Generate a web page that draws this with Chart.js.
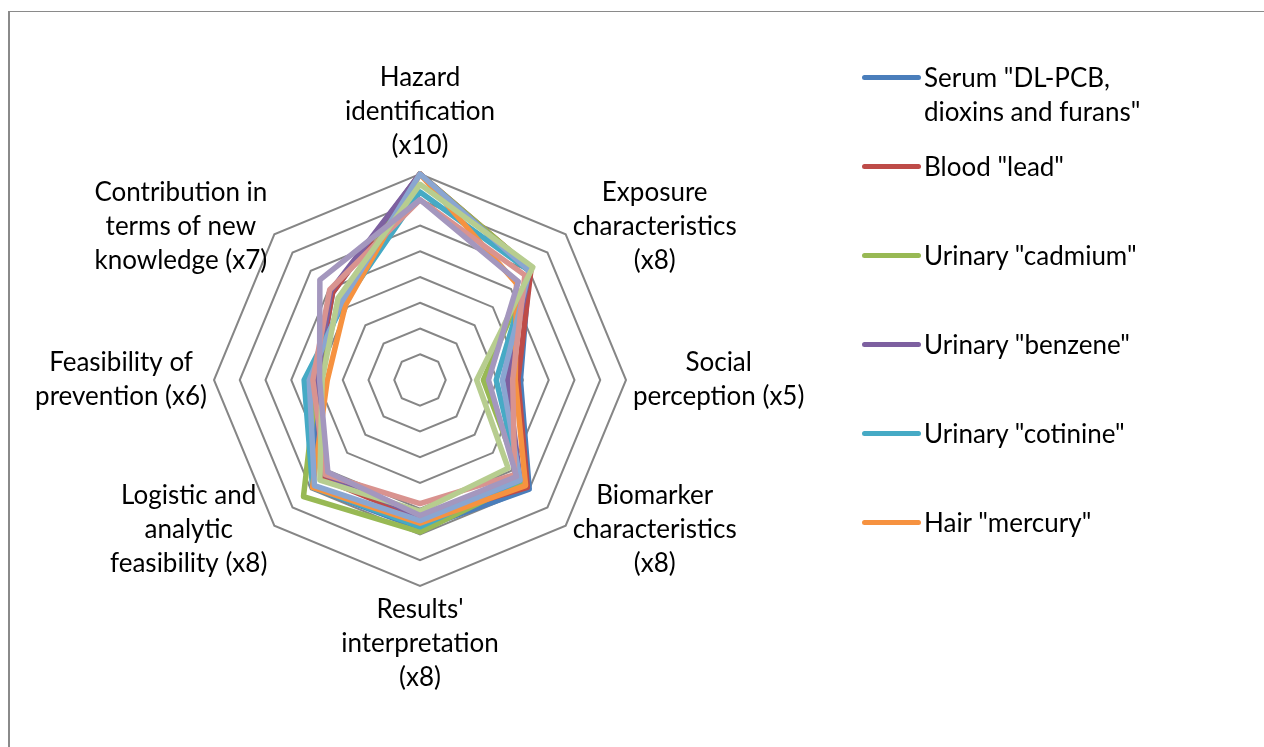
<!DOCTYPE html>
<html>
<head>
<meta charset="utf-8">
<script src="https://cdn.jsdelivr.net/npm/chart.js@4.4.1/dist/chart.umd.min.js"></script>
<style>
  html, body { margin: 0; padding: 0; background: #fff; }
  body { width: 1264px; height: 747px; position: relative; overflow: hidden; font-family: Lato, "Open Sans", sans-serif; }
  #frame { position: absolute; left: 8px; top: 11px; width: 1300px; height: 800px; border-top: 1px solid #8a8a8a; border-left: 2px solid #8a8a8a; }
  #wrap { position: absolute; left: 0; top: 0; width: 1264px; height: 747px; }
  #legend { position: absolute; left: 862px; top: 0; }
  .item { position: absolute; left: 0; display: flex; align-items: flex-start; }
  .swatch { width: 59px; height: 5px; border-radius: 3px; margin-top: 15px; }
  .txt { font-size: 26px; line-height: 34px; color: #000; width: 232px; margin-left: 3px; }
</style>
</head>
<body>
<div id="frame"></div>
<div id="wrap"><canvas id="radar"></canvas></div>
<div id="legend"></div>
<script>
// criteria around the radar, clockwise from the top
const criteria = [
  ['Hazard', 'identification', '(x10)'],
  ['Exposure', 'characteristics', '(x8)'],
  ['Social', 'perception (x5)'],
  ['Biomarker', 'characteristics', '(x8)'],
  ["Results'", 'interpretation', '(x8)'],
  ['Logistic and', 'analytic', 'feasibility (x8)'],
  ['Feasibility of', 'prevention (x6)'],
  ['Contribution in', 'terms of new', 'knowledge (x7)']
];

const seriesNames = [
  'Serum "DL-PCB, dioxins and furans"',
  'Blood "lead"',
  'Urinary "cadmium"',
  'Urinary "benzene"',
  'Urinary "cotinine"',
  'Hair "mercury"',
  'Series 7',
  'Series 8',
  'Series 9',
  'Series 10'
];
const seriesColors = ['#4a7ebb', '#be4b48', '#98b954', '#7d60a0', '#46aac5', '#f69240',
                      '#8aa6d1', '#d9938f', '#b7cd8f', '#a497be'];

// scores per criterion (same order as criteria)
const serum    = [40, 30, 19.5, 30, 28.8, 29.5, 20, 24];
const lead     = [40, 30.5, 19, 29.5, 27, 27, 20, 24];
const cadmium  = [40, 30.5, 12.3, 28, 29.5, 32, 20, 22];
const benzene  = [40, 30, 17, 27.5, 26.5, 26, 20, 24.5];
const cotinine = [36.5, 30, 14.8, 27.5, 28.5, 29.5, 22.5, 21];
const mercury  = [40, 26.5, 18.5, 29, 27.8, 29.5, 18, 20.5];
const series7  = [40, 30, 16, 27.5, 27.3, 29, 21.5, 21.5];
const series8  = [35, 28.8, 18, 26, 24, 26, 20.8, 24.8];
const series9  = [38, 31, 11, 24.2, 25.5, 27.5, 19, 22.5];
const series10 = [35, 27, 13.3, 26.5, 26.3, 25.3, 19.5, 27.5];
const allSeries = [serum, lead, cadmium, benzene, cotinine, mercury, series7, series8, series9, series10];

const legendShown = 6;

const datasets = allSeries.map((vals, i) => ({
  label: seriesNames[i],
  data: vals,
  borderColor: seriesColors[i],
  backgroundColor: seriesColors[i],
  borderWidth: 5.5,
  borderJoinStyle: 'round',
  pointRadius: 0,
  fill: false,
  order: allSeries.length - i
}));

const labelFont = '26px Lato, "Open Sans", sans-serif';

const pointLabelPlugin = {
  id: 'excelLabels',
  afterDraw(chart) {
    const scale = chart.scales.r;
    const ctx = chart.ctx;
    const lh = 34;
    ctx.save();
    ctx.font = labelFont;
    ctx.fillStyle = '#000';
    ctx.textAlign = 'center';
    ctx.textBaseline = 'middle';
    criteria.forEach((lines, i) => {
      const p = scale.getPointPosition(i, scale.drawingArea);
      const w = Math.max(...lines.map(t => ctx.measureText(t).width));
      const n = lines.length;
      let cx, firstY;
      if (i === 0) {
        cx = p.x;
        firstY = p.y - 28 - (n - 1) * lh;
      } else if (i === 4) {
        cx = p.x;
        firstY = p.y + 24;
      } else {
        const right = i < 4;
        cx = right ? p.x + 7 + w / 2 : p.x - 7 - w / 2;
        let dy = 0;
        if (i === 1 || i === 7) dy = -8;
        if (i === 3 || i === 5) dy = 4;
        firstY = p.y + dy - (n - 1) * lh / 2;
      }
      lines.forEach((t, k) => ctx.fillText(t, cx, firstY + k * lh));
    });
    ctx.restore();
  }
};

new Chart(document.getElementById('radar'), {
  type: 'radar',
  data: { labels: criteria.map(c => c.join(' ')), datasets: datasets },
  options: {
    responsive: true,
    maintainAspectRatio: false,
    animation: false,
    layout: { padding: { left: 214, top: 174, right: 638, bottom: 161 } },
    elements: { line: { tension: 0 } },
    plugins: { legend: { display: false }, tooltip: { enabled: false } },
    scales: {
      r: {
        min: 0,
        max: 40,
        ticks: { stepSize: 5, display: false },
        angleLines: { display: false },
        grid: { color: '#868686', lineWidth: 2 },
        pointLabels: { display: false }
      }
    }
  },
  plugins: [pointLabelPlugin]
});

// legend (only the first entries fit in the original)
const legend = document.getElementById('legend');
seriesNames.slice(0, legendShown).forEach((name, i) => {
  const item = document.createElement('div');
  item.className = 'item';
  item.style.top = (60 + i * 89) + 'px';
  const sw = document.createElement('div');
  sw.className = 'swatch';
  sw.style.background = seriesColors[i];
  const tx = document.createElement('div');
  tx.className = 'txt';
  tx.textContent = name;
  item.appendChild(sw);
  item.appendChild(tx);
  legend.appendChild(item);
});
</script>
</body>
</html>
